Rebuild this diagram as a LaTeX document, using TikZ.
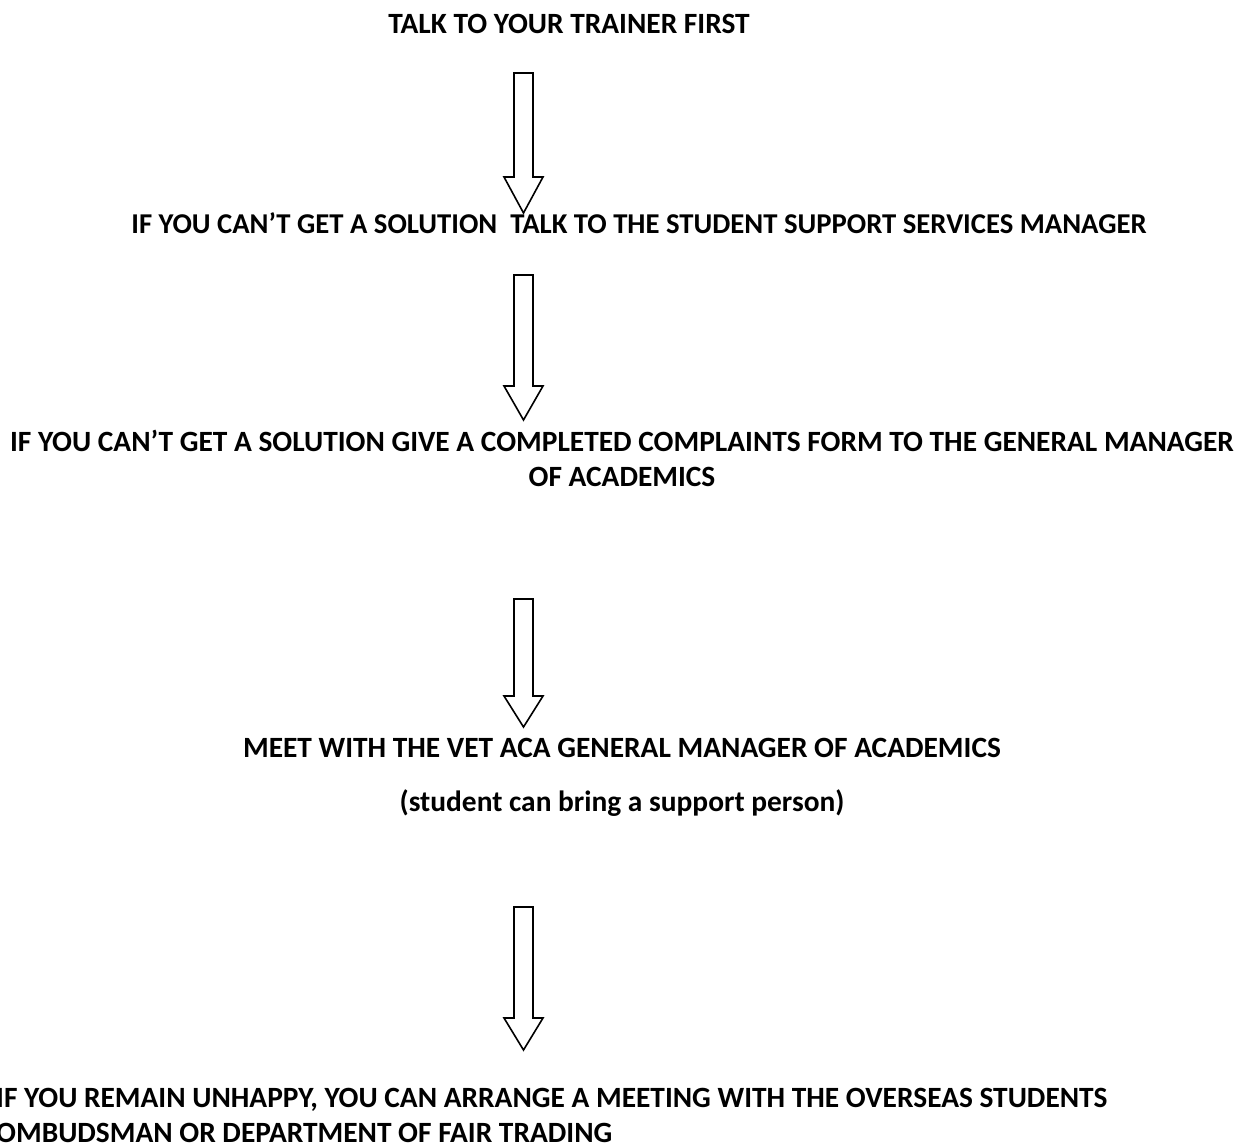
\documentclass[tikz,border=0pt]{standalone}
\usepackage{fontspec}
\setmainfont{Carlito}
\begin{document}
\begin{tikzpicture}[x=1pt,y=-1pt, font=\fontsize{29.4}{35}\selectfont\bfseries, line join=miter]
	\useasboundingbox (0,0) rectangle (1239,1147);
	\tikzset{step text/.style={inner sep=0pt, anchor=base, align=center}}
	\node[step text] (trainer) at (569,34) {TALK TO YOUR TRAINER FIRST};
	\node[step text, font=\fontsize{28.7}{35}\selectfont\bfseries] (manager) at (639,234) {IF YOU CAN’T GET A SOLUTION\ \ TALK TO THE STUDENT SUPPORT SERVICES MANAGER};
	\node[step text, anchor=north] (form) at (622,430) {IF YOU CAN’T GET A SOLUTION GIVE A COMPLETED COMPLAINTS FORM TO THE GENERAL MANAGER\\ OF ACADEMICS};
	\node[step text] (meet) at (622,757) {MEET WITH THE VET ACA GENERAL MANAGER OF ACADEMICS};
	\node[step text] (support) at (622,811) {(student can bring a support person)};
	\node[step text, anchor=base west, align=left] (ombudsman) at (-4,1142) {IF YOU REMAIN UNHAPPY, YOU CAN ARRANGE A MEETING WITH THE OVERSEAS STUDENTS\\OMBUDSMAN OR DEPARTMENT OF FAIR TRADING};
	% block arrows between the steps
	\foreach \t/\b/\p in {73/177/213, 275/386/420, 599/696/727, 907/1018/1050}
	\draw[line width=1.6pt, fill=white] (514,\t) -- (533,\t) -- (533,\b) -- (543,\b) -- (523.5,\p) -- (504,\b) -- (514,\b) -- cycle;
\end{tikzpicture}
\end{document}
